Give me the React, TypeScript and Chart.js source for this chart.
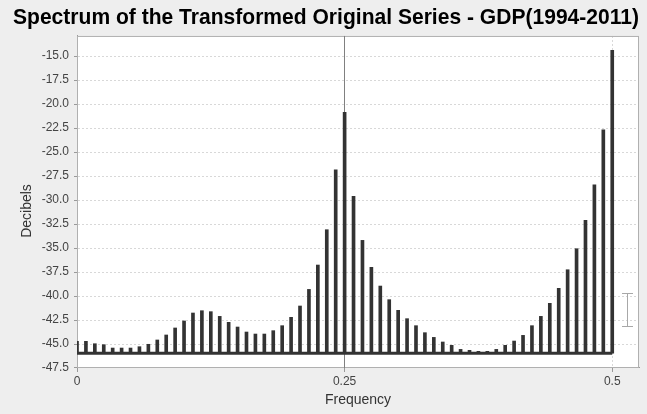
import React, { useEffect, useRef } from 'react';
import { Chart, registerables } from 'chart.js';

Chart.register(...registerables);

const TITLE = 'Spectrum of the Transformed Original Series - GDP(1994-2011)';
const X_LABEL = 'Frequency';
const Y_LABEL = 'Decibels';

const FREQUENCIES = [
  0, 0.00833, 0.01667, 0.025, 0.03333, 0.04167, 0.05, 0.05833, 0.06667, 0.075,
  0.08333, 0.09167, 0.1, 0.10833, 0.11667, 0.125, 0.13333, 0.14167, 0.15, 0.15833,
  0.16667, 0.175, 0.18333, 0.19167, 0.2, 0.20833, 0.21667, 0.225, 0.23333, 0.24167,
  0.25, 0.25833, 0.26667, 0.275, 0.28333, 0.29167, 0.3, 0.30833, 0.31667, 0.325,
  0.33333, 0.34167, 0.35, 0.35833, 0.36667, 0.375, 0.38333, 0.39167, 0.4, 0.40833,
  0.41667, 0.425, 0.43333, 0.44167, 0.45, 0.45833, 0.46667, 0.475, 0.48333, 0.49167,
  0.5,
];

const DECIBELS = [
  -44.72, -44.72, -44.97, -45.07, -45.42, -45.42, -45.42, -45.28, -45.03, -44.58,
  -44.06, -43.33, -42.6, -41.77, -41.53, -41.63, -42.12, -42.74, -43.23, -43.75,
  -43.96, -43.96, -43.61, -43.09, -42.22, -41.04, -39.31, -36.77, -33.09, -26.84,
  -20.85, -29.62, -34.2, -37.01, -38.96, -40.38, -41.49, -42.36, -43.09, -43.82,
  -44.31, -44.79, -45.14, -45.56, -45.66, -45.76, -45.76, -45.56, -45.14, -44.69,
  -44.1, -43.09, -42.12, -40.76, -39.2, -37.26, -35.07, -32.12, -28.4, -22.67,
  -14.41,
];

const BASELINE_DB = -45.95;
const BASELINE_RANGE = [0, 0.5];

const Y_TICKS = [-47.5, -45, -42.5, -40, -37.5, -35, -32.5, -30, -27.5, -25, -22.5, -20, -17.5, -15];
const X_TICKS = [0, 0.25, 0.5];
const Y_MIN = -47.5;
const Y_MAX = -12.9;
const X_MIN = 0;
const X_MAX = 0.525;

const MARKER_FREQ = 0.25;
const INTERVAL_FREQ = 0.5147;
const INTERVAL_LOW = -43.2;
const INTERVAL_HIGH = -39.7;

const FONT = '"Liberation Sans", Arial, Helvetica, sans-serif';

const align = (p: number) => Math.round(p - 0.5) + 0.5;

const decorPlugin = {
  id: 'decor',
  beforeDraw(chart: any) {
    const { ctx, chartArea: a, width, height } = chart;
    ctx.save();
    ctx.fillStyle = '#eeeeee';
    ctx.fillRect(0, 0, width, height);
    ctx.fillStyle = '#ffffff';
    ctx.fillRect(a.left, a.top, a.right - a.left, a.bottom - a.top);
    ctx.restore();
  },
  beforeDatasetsDraw(chart: any) {
    const { ctx, chartArea: a, scales } = chart;
    ctx.save();
    ctx.strokeStyle = '#b0b0b0';
    ctx.lineWidth = 1;
    ctx.strokeRect(a.left + 0.5, a.top + 0.5, a.right - a.left - 1, a.bottom - a.top - 1);
    const mx = align(scales.x.getPixelForValue(MARKER_FREQ));
    ctx.strokeStyle = '#808080';
    ctx.beginPath();
    ctx.moveTo(mx, a.top);
    ctx.lineTo(mx, a.bottom);
    ctx.stroke();
    ctx.restore();
  },
  afterDatasetsDraw(chart: any) {
    const { ctx, scales, chartArea: a } = chart;
    const x = align(scales.x.getPixelForValue(INTERVAL_FREQ));
    const y1 = align(scales.y.getPixelForValue(INTERVAL_HIGH));
    const y2 = align(scales.y.getPixelForValue(INTERVAL_LOW));
    ctx.save();
    ctx.strokeStyle = '#a8a8a8';
    ctx.lineWidth = 1;
    ctx.beginPath();
    ctx.moveTo(x, y1);
    ctx.lineTo(x, y2);
    ctx.moveTo(x - 5.5, y1);
    ctx.lineTo(x + 5.5, y1);
    ctx.moveTo(x - 5.5, y2);
    ctx.lineTo(x + 5.5, y2);
    ctx.stroke();
    // y-axis title
    ctx.translate(27, (a.top + a.bottom) / 2 + 9);
    ctx.rotate(-Math.PI / 2);
    ctx.fillStyle = '#333333';
    ctx.font = '14px ' + FONT;
    ctx.textAlign = 'center';
    ctx.textBaseline = 'middle';
    ctx.fillText(Y_LABEL, 0, 0);
    ctx.restore();
  },
};

export default function App() {
  const ref = useRef<HTMLCanvasElement | null>(null);

  useEffect(() => {
    if (!ref.current) return;
    const chart = new Chart(ref.current, {
      type: 'bar',
      data: {
        datasets: [
          {
            type: 'line',
            data: BASELINE_RANGE.map((f) => ({ x: f, y: BASELINE_DB })),
            borderColor: '#333333',
            borderWidth: 3,
            pointRadius: 0,
            order: 0,
          } as any,
          {
            type: 'bar',
            data: FREQUENCIES.map((f, i) => ({ x: f, y: [BASELINE_DB, DECIBELS[i]] })),
            backgroundColor: '#333333',
            borderWidth: 0,
            barThickness: 3,
            grouped: false,
            order: 1,
          } as any,
        ],
      },
      options: {
        animation: false,
        responsive: false,
        devicePixelRatio: 1,
        layout: { padding: { left: 13, right: 8, top: 0, bottom: 0 } },
        plugins: {
          legend: { display: false },
          tooltip: { enabled: false },
          title: {
            display: true,
            text: TITLE,
            color: '#000000',
            font: { family: FONT, size: 21.3, weight: 'bold' },
            padding: { top: 5, bottom: 5.4 },
          },
        },
        scales: {
          x: {
            type: 'linear',
            min: X_MIN,
            max: X_MAX,
            offset: false,
            grid: { offset: false, color: '#d8d8d8', tickColor: '#999999', tickLength: 4 },
            border: { display: true, color: '#999999', dash: [2, 2] },
            afterBuildTicks: (s: any) => {
              s.ticks = X_TICKS.map((v) => ({ value: v }));
            },
            ticks: {
              color: '#444444',
              font: { family: FONT, size: 12 },
              padding: 2,
              maxRotation: 0,
              autoSkip: false,
              callback: (v: any) => String(v),
            },
            title: {
              display: true,
              text: X_LABEL,
              color: '#333333',
              font: { family: FONT, size: 14 },
              padding: { top: 0, bottom: 5 },
            },
            afterFit: (s: any) => {
              s.height = 46;
            },
          } as any,
          y: {
            type: 'linear',
            min: Y_MIN,
            max: Y_MAX,
            grid: { color: '#d8d8d8', tickColor: '#999999', tickLength: 3 },
            border: { display: true, color: '#999999', dash: [2, 2] },
            afterBuildTicks: (s: any) => {
              s.ticks = Y_TICKS.map((v) => ({ value: v }));
            },
            ticks: {
              color: '#444444',
              font: { family: FONT, size: 12 },
              padding: 5,
              autoSkip: false,
              callback: (v: any) => Number(v).toFixed(1),
            },
            title: { display: false },
            afterFit: (s: any) => {
              s.width = 64;
            },
          } as any,
        },
      },
      plugins: [decorPlugin],
    });
    return () => chart.destroy();
  }, []);

  return (
    <div style={{ position: 'fixed', left: 0, top: 0, width: 647, height: 414, background: '#eeeeee' }}>
      <canvas ref={ref} width={647} height={414} style={{ display: 'block' }} />
    </div>
  );
}
